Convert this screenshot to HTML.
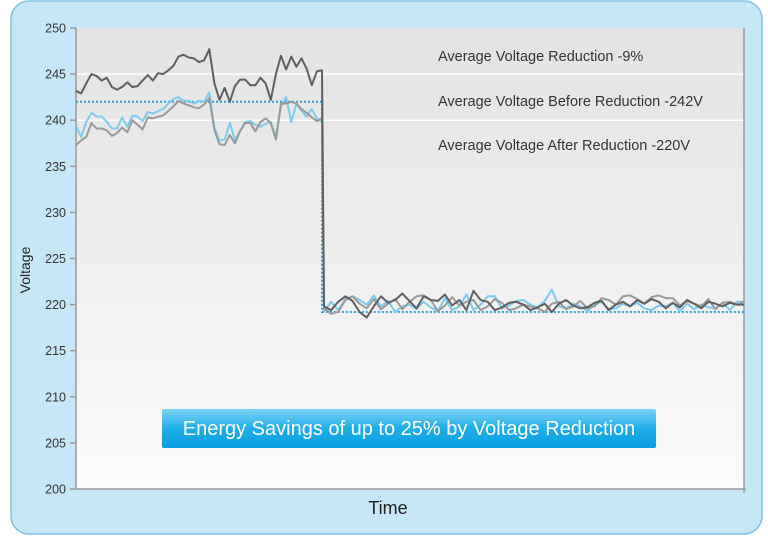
<!DOCTYPE html>
<html><head><meta charset="utf-8"><style>
body{margin:0;width:768px;height:538px;background:#fff;overflow:hidden;font-family:"Liberation Sans",sans-serif}
</style></head><body>
<svg width="768" height="538" xmlns="http://www.w3.org/2000/svg">
<defs>
<linearGradient id="pg" x1="0" y1="0" x2="0" y2="1"><stop offset="0" stop-color="#e3e3e3"/><stop offset="1" stop-color="#fbfbfb"/></linearGradient>
<linearGradient id="bg" x1="0" y1="0" x2="0" y2="1"><stop offset="0" stop-color="#7fd3f5"/><stop offset="0.5" stop-color="#1eaee8"/><stop offset="1" stop-color="#0a9de0"/></linearGradient>
</defs>
<rect x="11" y="1" width="751" height="533" rx="18" fill="#c6e7f8" stroke="#7cc3e4" stroke-width="1.5"/>
<rect x="76" y="28" width="668" height="461" fill="url(#pg)"/>
<g id="grid"></g>
<g id="axes"></g>
<g id="series"></g>
<text x="438" y="61" font-size="14.5" fill="#333">Average Voltage Reduction -9%</text>
<text x="438" y="106" font-size="14.5" fill="#333">Average Voltage Before Reduction -242V</text>
<text x="438" y="150" font-size="14.5" fill="#333">Average Voltage After Reduction -220V</text>
<rect x="162" y="409" width="494" height="39" rx="2" fill="url(#bg)"/>
<text x="409" y="435" font-size="20" fill="#fff" text-anchor="middle">Energy Savings of up to 25% by Voltage Reduction</text>
<text x="388" y="514" font-size="18" fill="#222" text-anchor="middle">Time</text>
<text transform="translate(30,270) rotate(-90)" font-size="14" fill="#222" text-anchor="middle">Voltage</text>
</svg>
<script>
const yTicks=[200,205,210,215,220,225,230,235,240,245,250];
const beforeDark=[243.2,242.9,244,245,244.8,244.3,244.6,243.6,243.3,243.6,244.1,243.6,243.7,244.3,244.9,244.3,245.1,245,245.4,245.9,246.9,247.1,246.8,246.7,246.3,246.5,247.7,244,242.2,243.5,242,243.7,244.4,244.4,243.8,243.8,244.6,244,242.2,245,247,245.5,246.9,245.8,246.7,245.6,243.8,245.3,245.4];
const beforeGray=[237.3,237.8,238.2,239.7,239.1,239.1,238.9,238.3,238.6,239.2,238.7,240,239.5,239,240.3,240.2,240.4,240.5,241,241.5,242.1,241.8,241.6,241.4,241.3,241.7,242.4,238.9,237.4,237.3,238.4,237.5,238.8,239.7,239.7,238.8,239.8,240.2,239.7,237.9,241.8,241.8,242,241.8,241.2,240.8,240.3,239.9,240.2];
const beforeBlue=[239.4,238.2,239.8,240.8,240.4,240.4,239.8,239.1,239.1,240.3,239.3,240.5,240.4,239.9,240.9,240.7,241,241.2,241.8,242.3,242.5,242.1,242.1,241.8,242.1,242,243,239.2,237.8,237.9,239.7,237.9,238.8,239.8,239.9,239.5,239.3,239.6,239.8,238.2,241.5,242.5,239.8,241.8,241,240.4,241.2,240.2,239.8];
const afterDark=[219.8,219.4,220.3,220.9,220.4,219.2,218.6,219.8,220.9,220.2,220.5,221.2,220.4,219.6,220.9,220.5,220.4,221.1,219.9,220.5,219.4,221.5,220.5,220.3,219.4,219.7,220.2,220.3,220,219.4,219.7,220.1,219.2,220.1,220.5,219.9,219.6,219.7,220.2,220.4,219.4,220,220.3,219.8,220.5,220.1,220.6,220.3,219.6,220.2,219.7,220.5,220.1,219.6,220.3,220.1,219.8,220.2,220,220];
const afterGray=[219.6,219,219.2,220.5,220.9,220.1,219.6,220.6,219.5,220.1,220.6,219.5,220.3,220.9,221,220.5,219.3,219.9,220.8,219.9,220.3,220.5,219.4,219.8,220.6,220.2,219.4,219.6,220,219.8,219.6,219.2,220.1,220.3,219.5,219.8,220.4,219.6,219.8,220.7,220.5,220,220.9,221,220.6,220.1,220.8,221,220.7,220.7,219.9,220.4,220.1,219.8,220.6,219.5,220.2,220.3,220,220.3];
const afterBlue=[219.3,220.3,219.4,220.6,220.9,220.5,220,221,219.8,220.4,219.2,219.8,220,219.5,220.3,219.7,219.3,220.7,219.4,219.8,221.1,219.4,220,220.9,220.9,219.6,219.9,220.4,220.5,220,219.7,220.4,221.6,219.8,219.6,220.1,219.8,219.3,220,220.3,219.5,219.6,220.1,219.8,220.2,219.6,219.4,219.9,219.8,220.2,219.3,220.1,219.5,220,219.7,219.6,220.2,219.4,220.3,220.3];
const avgBefore=242, avgAfter=219.2;
const NS='http://www.w3.org/2000/svg';
const X0=76,X1=744,XS=322;
const y=v=>489-(v-200)*(461/50);
function mk(t,a,p){const e=document.createElementNS(NS,t);for(const k in a)e.setAttribute(k,a[k]);p.appendChild(e);return e;}
const grid=document.getElementById('grid'),axes=document.getElementById('axes'),ser=document.getElementById('series');
[240,245].forEach(v=>{const l=mk('line',{x1:X0,x2:X1,y1:y(v),y2:y(v),stroke:'#fff','stroke-width':1.5},grid);

});
const ya=mk('line',{x1:X0,x2:X0,y1:y(250),y2:y(200),stroke:'#999','stroke-width':1.5},axes);


mk('line',{x1:X0,x2:X1+2,y1:489,y2:489,stroke:'#999','stroke-width':1.5},axes);
mk('line',{x1:X1,x2:X1,y1:28,y2:493,stroke:'#999','stroke-width':1.5},axes);
yTicks.forEach(v=>{mk('line',{x1:X0-6,x2:X0,y1:y(v),y2:y(v),stroke:'#999','stroke-width':1.5},axes);
const t=mk('text',{x:X0-10,y:y(v)+4.5,'font-size':12.5,fill:'#333','text-anchor':'end'},axes);t.textContent=v;

});
function pts(b,a){const nb=b.length,na=a.length,p=[];
b.forEach((v,i)=>p.push([X0+(XS-X0)*i/(nb-1),y(v)]));
a.forEach((v,i)=>p.push([XS+2+(X1-XS-2)*i/(na-1),y(v)]));return p.map(q=>q[0].toFixed(1)+','+q[1].toFixed(1)).join(' ');}
const avg=mk('polyline',{points:`${X0},${y(avgBefore)} ${XS},${y(avgBefore)} ${XS},${y(avgAfter)} ${X1},${y(avgAfter)}`,fill:'none',stroke:'#2c9fd9','stroke-width':2,'stroke-dasharray':'2,2'},ser);


[[beforeBlue,afterBlue,'#7ccbef','series-blue'],[beforeGray,afterGray,'#9a9a9a','series-gray'],[beforeDark,afterDark,'#5f5f5f','series-dark']].forEach(s=>{
const l=mk('polyline',{points:pts(s[0],s[1]),fill:'none',stroke:s[2],'stroke-width':2,'stroke-linejoin':'round'},ser);

});
</script>
</body></html>
